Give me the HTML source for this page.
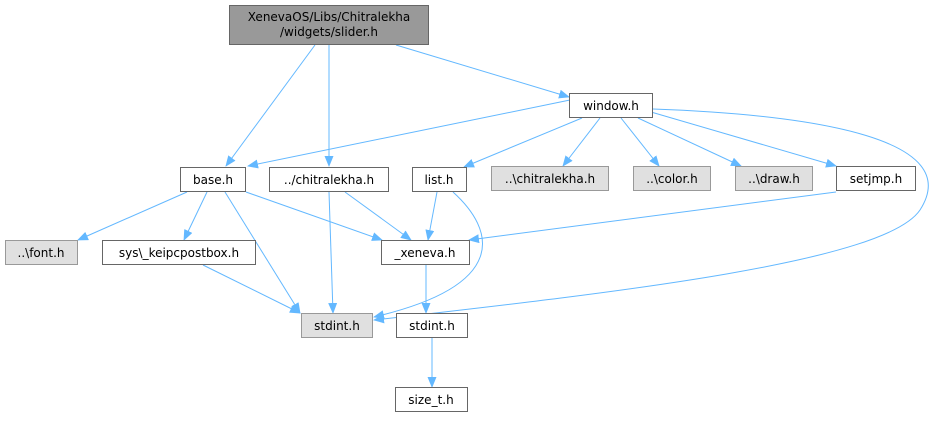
<!DOCTYPE html>
<html><head><meta charset="utf-8"><style>
body{margin:0;background:#fff}
text{font-family:"DejaVu Sans","Liberation Sans",sans-serif;font-size:12px;text-anchor:middle}
</style></head><body>
<svg width="939" height="417" viewBox="0 0 939 417" xmlns="http://www.w3.org/2000/svg">
<defs><marker id="a" markerWidth="11" markerHeight="9" refX="10" refY="4.5" orient="auto" markerUnits="userSpaceOnUse"><path d="M0,0 L11,4.5 L0,9 Z" fill="#63b8ff"/></marker></defs>
<g stroke="#63b8ff" stroke-width="1" fill="none" marker-end="url(#a)">
<path d="M315,45 L226,166"/>
<path d="M329,45 L329,166"/>
<path d="M396,45 L569,97"/>
<path d="M570,100 L248,166"/>
<path d="M582,118 L464,167"/>
<path d="M600,118 L563,166"/>
<path d="M621,118 L659,166"/>
<path d="M638,118 L741,166"/>
<path d="M651,112 L836,166"/>
<path d="M653,109 C820,115 965,140 920,210 C885,262 620,292 374,320"/>
<path d="M187,192 L78,240"/>
<path d="M207,192 L184,240"/>
<path d="M225,192 L300,313"/>
<path d="M246,192 L382,240"/>
<path d="M345,192 L411,240"/>
<path d="M329,192 L333,313"/>
<path d="M437,192 L428,240"/>
<path d="M453,192 C495,230 510,285 374,317"/>
<path d="M203,265 L300,313"/>
<path d="M836,192 L469,240"/>
<path d="M426,265 L426,313"/>
<path d="M432,338 L432,387"/>
</g>
<g stroke-width="1">
<rect x="229.5" y="5.5" width="199" height="39" fill="#999" stroke="#666"/>
<rect x="569.5" y="93.5" width="83" height="24" fill="#fff" stroke="#666"/>
<rect x="180.5" y="167.5" width="65" height="24" fill="#fff" stroke="#666"/>
<rect x="269.5" y="167.5" width="119" height="24" fill="#fff" stroke="#666"/>
<rect x="412.5" y="167.5" width="54" height="24" fill="#fff" stroke="#666"/>
<rect x="491.5" y="166.5" width="117" height="24" fill="#e0e0e0" stroke="#999"/>
<rect x="633.5" y="166.5" width="77" height="24" fill="#e0e0e0" stroke="#999"/>
<rect x="735.5" y="166.5" width="77" height="24" fill="#e0e0e0" stroke="#999"/>
<rect x="836.5" y="166.5" width="79" height="24" fill="#fff" stroke="#666"/>
<rect x="5.5" y="240.5" width="72" height="24" fill="#e0e0e0" stroke="#999"/>
<rect x="102.5" y="240.5" width="153" height="24" fill="#fff" stroke="#666"/>
<rect x="381.5" y="240.5" width="88" height="24" fill="#fff" stroke="#666"/>
<rect x="301.5" y="313.5" width="71" height="24" fill="#e0e0e0" stroke="#999"/>
<rect x="396.5" y="313.5" width="71" height="24" fill="#fff" stroke="#666"/>
<rect x="395.5" y="387.5" width="72" height="24" fill="#fff" stroke="#666"/>
</g>
<g fill="#000">
<text x="329" y="21">XenevaOS/Libs/Chitralekha</text>
<text x="329" y="36">/widgets/slider.h</text>
<text x="611" y="110">window.h</text>
<text x="213" y="184">base.h</text>
<text x="329" y="184">../chitralekha.h</text>
<text x="439" y="184">list.h</text>
<text x="550" y="183">..\chitralekha.h</text>
<text x="672" y="183">..\color.h</text>
<text x="774" y="183">..\draw.h</text>
<text x="876" y="183">setjmp.h</text>
<text x="41" y="257">..\font.h</text>
<text x="179" y="257">sys\_keipcpostbox.h</text>
<text x="425" y="257">_xeneva.h</text>
<text x="337" y="330">stdint.h</text>
<text x="432" y="330">stdint.h</text>
<text x="431" y="404">size_t.h</text>
</g>
</svg>
</body></html>
